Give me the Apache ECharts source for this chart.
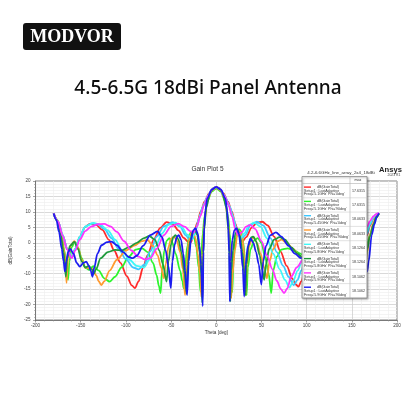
<!DOCTYPE html>
<html>
<head>
<meta charset="utf-8">
<script src="https://cdn.jsdelivr.net/npm/echarts@6/dist/echarts.min.js"></script>
<style>
html, body { margin: 0; padding: 0; background: #fff; }
#chart { width: 416px; height: 416px; }
</style>
</head>
<body>
<div id="chart"></div>
<script>
// [theta deg, dB(GainTotal)]
const red51_0 = [[-180,9.5],[-175,6.8],[-170,2.5],[-165,-2],[-160,-4.6],[-156,-2],[-151,2],[-145,5.1],[-140,6.1],[-133,5.8],[-126,4.2],[-119,1],[-113,-2.5],[-106,-6.5],[-99,-10.8],[-93.5,-13.8],[-90,-14.7],[-86,-12.5],[-81,-8],[-76,-4],[-69,1.2],[-62,4.8],[-55,6.7],[-48,6],[-42,4],[-36,1.6],[-31,0.3],[-28,0.2],[-25,2.5],[-21,6.5],[-17,10.2],[-13,13.3],[-8,16],[-4,17.2],[0,17.63],[4,17.2],[8,16],[13,13.3],[17,10.2],[21,6.3],[25,2.5],[29,0.4],[33,1.8],[39,4.8],[45,6.5],[51,6.8],[57,5.6],[64,2],[71,-2.8],[78,-7.5],[84,-11.5],[88,-13.5],[91,-14.2],[94,-12.5],[98,-9.5],[105,-4.5],[113,0.5],[122,4],[131,5.8],[139,6],[146,4],[152,0.5],[157,-2],[162,-1],[167,2.5],[170,5.5],[174,7.8],[177,9],[180,9.5]];
const green51_90 = [[-180,9.5],[-176,7.5],[-172,3.5],[-168,-2.5],[-165.5,-9],[-164,-12],[-162.5,-6],[-160,-1.5],[-156.5,0.4],[-153,-1.5],[-149,-5],[-145,-8],[-141,-8.8],[-136,-7.6],[-130,-9],[-124,-11.5],[-118,-12.6],[-112,-11],[-105,-8],[-97,-4.5],[-89,-2.2],[-82,-1.8],[-76,-3],[-70,-6.5],[-66,-10.5],[-63.5,-14],[-61.6,-16.3],[-60,-9],[-57.5,-2.5],[-55,0.6],[-52,1.5],[-49,0.3],[-45,-3.5],[-40,-9],[-37.5,-12.5],[-36,-14.7],[-34.5,-8],[-32,-1],[-29.5,2.8],[-27.5,3.6],[-25,2.5],[-22,-1.5],[-19.5,-8],[-17.5,-15.8],[-16.5,-4],[-15,3],[-13,8.5],[-10,13.3],[-5,16.6],[0,17.63],[5,16.6],[10,13.3],[13,8.5],[15,3],[16.5,-5],[17.7,-16],[19,-6],[21.5,1.5],[25,4.4],[27.5,3.8],[30,0],[32,-7],[33.5,-17],[35,-8],[38,-2],[42,0.8],[46,1.5],[50,0],[54,-4.5],[58,-10],[60.8,-16.3],[63,-9],[67,-4.5],[72,-2.2],[79,-1.8],[86,-2.5],[93,-3.5],[100,-5],[110,-9],[118,-12],[126,-10],[135,-7],[142,-8],[150,-4],[155,0],[160,-5],[163.5,-10],[165.5,-4],[167,-0.5],[170,2.5],[174,5.8],[177,8],[180,9.5]];
const sky545_0 = [[-180,9.5],[-175,6.8],[-170,2.5],[-165,-2],[-160,-4.7],[-156,-2],[-151,2],[-145,5.2],[-138,6.3],[-131,6],[-124,4.5],[-116,1.5],[-108,-2],[-100,-5.3],[-92,-8],[-86,-8.6],[-80,-7.2],[-73,-2.8],[-66,2],[-58,5.3],[-48,6.7],[-40,5.2],[-34,2.5],[-29.5,1],[-26.5,1.2],[-23,3.8],[-19,8],[-15,11.6],[-10,14.8],[-5,17.2],[0,18.06],[5,17.2],[10,14.8],[15,11.6],[19,8],[23,3.8],[27.5,1],[32,2.5],[38,5.8],[45,6.8],[52,5.6],[60,1.5],[67,-3],[74,-7.5],[80,-11],[85.7,-13.7],[90,-12],[94,-9],[98,-6.5],[106,-1.5],[115,2.5],[125,5.5],[134,6.3],[143,5],[151,1.5],[157,-2],[162,-0.5],[167,3],[170,5.8],[174,8],[177,9.1],[180,9.6]];
const orange545_90 = [[-180,9.5],[-176,7.3],[-172,3],[-168,-3],[-166.5,-8],[-165.7,-13],[-164,-5],[-161,-0.8],[-157,0.5],[-153,-1.5],[-149,-5.5],[-145,-8],[-141,-8.2],[-137,-8.5],[-133,-10.5],[-130,-12.5],[-127.3,-13.7],[-124,-12.5],[-118,-9],[-110,-5.5],[-100,-2.5],[-90,-0.8],[-83,0.5],[-76,0.9],[-70,-1],[-65,-4],[-61,-8],[-58,-11.5],[-56,-7],[-53,-1.5],[-50,1.3],[-47,2],[-44,1],[-40,-3],[-37,-8.5],[-34.5,-17],[-33,-8],[-30.5,0.5],[-28,3],[-25.5,3.5],[-23,1.5],[-20.5,-3.5],[-18,-10],[-16.5,-17.5],[-15.5,-6],[-14.5,1],[-13,7],[-10,13.8],[-5,16.9],[0,18.06],[5,16.9],[10,13.8],[13,7],[14.5,1],[15.5,-6],[16.5,-18],[18,-10],[20.5,-2.5],[23.5,3],[26,3.8],[28.5,2],[31,-4],[32.5,-17],[34,-7],[36.5,-1],[39,1.2],[41.5,1.8],[45,0],[49,-3.5],[53,-8],[56,-11.5],[59,-6],[63,-2],[68,0.5],[72,1],[78,0],[85,-2],[93,-4.5],[100,-6],[110,-9],[120,-12],[127,-13.5],[135,-9],[142,-7.5],[150,-5],[156,-1],[161,-4],[164.5,-10],[167,-3],[170,2.5],[174,6.5],[177,8.5],[180,9.5]];
const cyan58_0 = [[-180,9.5],[-175,6.8],[-170,2.5],[-165,-2],[-160,-4.7],[-156,-2],[-151,2],[-145,5.2],[-136,6.4],[-128,5.8],[-120,4],[-112,1],[-104,-2.5],[-96,-5.5],[-88,-7.5],[-80,-8],[-74,-5.5],[-67,-1],[-60,3],[-53,5.8],[-45,6.5],[-38,5],[-32,2.6],[-27.5,1.5],[-24.5,2.5],[-21,5.5],[-17.5,9.2],[-13.5,12.6],[-9,15.3],[-4.5,17.4],[0,18.13],[4.5,17.4],[9,15.3],[13.5,12.6],[17.5,9.2],[21,5.5],[24,2.8],[27,1.4],[31,3],[36.5,5.8],[42,6.5],[49,5.2],[56,1.5],[63,-3.5],[70,-8.5],[76,-12],[81,-14.5],[85,-12.5],[90,-9],[96,-5],[104,-1],[113,3],[124,6],[134,6.3],[143,5],[151,1.5],[157,-2],[162,0],[167,4],[170,6.3],[174,8.3],[177,9.2],[180,9.6]];
const dkgreen58_90 = [[-180,9.5],[-176,7],[-172,2.5],[-169,-3],[-167.5,-7],[-166.5,-11],[-165,-5],[-162,-1],[-157,0.3],[-153,-2],[-149,-6],[-145,-8],[-141,-7.5],[-138,-8.5],[-135.5,-10],[-133,-8.5],[-128,-5],[-120,-3],[-112,-2.3],[-105,-2.5],[-97,-1.5],[-88,0],[-80,1.5],[-74,2.2],[-68,1],[-63,-2.5],[-59,-7],[-55,-12.6],[-53,-6],[-50,-0.5],[-47.5,1.8],[-45,2.5],[-42,1.2],[-38.5,-3],[-35,-10],[-32.8,-16.5],[-31.5,-7],[-29,0.5],[-26,3.5],[-23.5,4.2],[-21,2.5],[-18.5,-3],[-16.5,-10],[-15.5,-19.5],[-14.5,-4],[-13.5,4],[-11,11.5],[-7,16],[-3.5,17.7],[0,18.13],[3.5,17.7],[7,16],[11,11.5],[13.5,4],[14.5,-4],[15.5,-19],[16.5,-9],[18.5,-2.5],[21,2.8],[23.5,4.2],[26,2.5],[29,-3],[31,-10],[32.3,-17],[33.5,-7],[36,0],[39,1.8],[41,2],[44,0.5],[48,-4],[51,-9],[53,-12],[55,-7],[58.5,-2],[64,1],[70,1.8],[76,1],[83,-1.5],[90,-3.5],[96,-5],[105,-3],[112,-2.5],[120,-3.5],[128,-6],[135,-10],[140,-8],[147,-7],[153,-2],[158,0],[162,-2],[165,-7],[167,-2],[170,2],[174,6],[177,8.3],[180,9.5]];
const magenta59_0 = [[-180,9.5],[-175,6.8],[-170,2.3],[-165,-2.2],[-160,-5],[-156,-2.5],[-151,1],[-145,3.8],[-138,5.3],[-131,6],[-124,6.1],[-117,5.3],[-110,3.5],[-102,0.5],[-94,-2.5],[-86,-4.5],[-79,-5.4],[-73,-5],[-66,-2],[-58,2.5],[-50,5.3],[-42,6.2],[-35,5.2],[-29,3.8],[-25,3.3],[-21.5,5.2],[-17.5,8.8],[-13.5,12.3],[-9,15.2],[-4.5,17.4],[0,18.1],[4.5,17.4],[9,15.2],[13.5,12.3],[17.5,8.5],[21,4.5],[24,2.5],[28,3.3],[33,5.2],[37.5,5.8],[43,4.5],[50,0.5],[56,-4],[62,-8.5],[67,-12.3],[71.5,-15],[75,-16.3],[78.5,-14.8],[83,-11],[89,-8],[96,-5.5],[104,-1.5],[112,2],[122,5],[132,6],[142,4.5],[150,1],[157,-2],[162,1],[167,5.2],[170,7],[174,8.6],[177,9.3],[180,9.7]];
const blue59_90 = [[-180,9.5],[-177,7.5],[-174,3.5],[-171,-2],[-169,-6],[-167.5,-9.3],[-166,-6],[-164,-3],[-161.5,-2],[-158,-3.5],[-154.5,-6.5],[-151,-7.7],[-147,-6.5],[-143.8,-6.1],[-141,-7.5],[-139,-9],[-137,-11],[-135,-8],[-131.5,-3.5],[-127,-0.8],[-121,0.2],[-116,0.4],[-110,-0.8],[-103,-3],[-97,-4.6],[-92.6,-5],[-88,-4.2],[-81,-1],[-73,2.5],[-65,3.7],[-60,1.8],[-56,-2.5],[-53,-7.5],[-50.3,-14.7],[-48.5,-6],[-46,-0.5],[-43.5,2],[-41.5,2.5],[-39,1],[-36.5,-3.5],[-34.5,-9],[-32.3,-16.9],[-30.5,-6],[-28,1],[-25.5,4],[-23,4.7],[-20.5,3],[-18.5,-1],[-16.8,-7],[-15,-20.5],[-14.2,-3],[-13.3,5],[-12,10.5],[-10,14.4],[-5,17.2],[0,18.1],[5,17.2],[10,14.4],[12,10.5],[13.3,5],[14.2,-3],[15,-19],[16,-6],[17.8,1],[20,4],[22.5,4.7],[25,3],[27.3,-2],[29.3,-8],[30.9,-17.4],[32.5,-7],[35,-1],[38,1.4],[41,0],[44,-3],[47,-7],[49.9,-13.5],[52,-6],[55,-1],[60,2.5],[66,3.4],[72,2],[80,-1],[87,-3.5],[93.7,-5],[100,-4],[108,-1.5],[116,0.3],[124,-1],[131,-5],[135,-10],[139,-7.5],[144,-6],[149,-7.5],[154,-5],[159,-2.5],[163,-4],[165,-6],[167,-9.3],[168.6,-6.1],[172,2.5],[175,6],[177.7,8.5],[180,9.5]];

const curveData = [red51_0, green51_90, sky545_0, orange545_90, cyan58_0, dkgreen58_90, magenta59_0, blue59_90];
const curveNames = ['5.1GHz 0deg', '5.1GHz 90deg', '5.45GHz 0deg', '5.45GHz 90deg', '5.8GHz 0deg', '5.8GHz 90deg', '5.9GHz 0deg', '5.9GHz 90deg'];
const freqLabels = ["Freq='5.1GHz' Phi='0deg'", "Freq='5.1GHz' Phi='90deg'", "Freq='5.45GHz' Phi='0deg'", "Freq='5.45GHz' Phi='90deg'", "Freq='5.8GHz' Phi='0deg'", "Freq='5.8GHz' Phi='90deg'", "Freq='5.9GHz' Phi='0deg'", "Freq='5.9GHz' Phi='90deg'"];
const maxValues = ['17.6315', '17.6315', '18.0633', '18.0633', '18.1264', '18.1264', '18.1062', '18.1062'];

const colors = ['#ff2a2a', '#2cf52c', '#3cc6ff', '#ff9a30', '#3ef8f8', '#1f9a3c', '#ff33ff', '#1c1cf0'];
const sans = 'Liberation Sans';

const chart = echarts.init(document.getElementById('chart'), null, { renderer: 'canvas' });

// legend box (Ansys style table) drawn as graphic
const boxX = 302, boxY = 176.5, boxW = 65, boxH = 121.5;
const rowTop = 183.5, rowH = 14.3, colX = 350;
const legendGfx = [
    {
        type: 'rect', z: 10,
        shape: { x: boxX, y: boxY, width: boxW, height: boxH },
        style: { fill: '#fff', stroke: '#8a8a8a', lineWidth: 0.8, shadowBlur: 2, shadowOffsetX: 1, shadowOffsetY: 1, shadowColor: 'rgba(0,0,0,0.35)' }
    },
    { type: 'line', z: 11, shape: { x1: boxX, y1: rowTop, x2: boxX + boxW, y2: rowTop }, style: { stroke: '#b0b0b0', lineWidth: 0.6 } },
    { type: 'line', z: 11, shape: { x1: colX, y1: boxY, x2: colX, y2: boxY + boxH }, style: { stroke: '#b0b0b0', lineWidth: 0.6 } },
    { type: 'text', z: 11, x: 358, y: 180.2, style: { text: 'max', font: '3.6px ' + sans, fill: '#333', align: 'center', verticalAlign: 'middle', textAlign: 'center', textVerticalAlign: 'middle' } }
];
freqLabels.forEach((f, i) => {
    const top = rowTop + i * rowH;
    legendGfx.push({ type: 'text', z: 11, x: 304, y: top + 7.3, style: { text: 'Setup1 : LastAdaptive', font: '3.6px ' + sans, fill: '#333', verticalAlign: 'middle', textVerticalAlign: 'middle' } });
    legendGfx.push({ type: 'text', z: 11, x: 304, y: top + 10.9, style: { text: f, font: '3.6px ' + sans, fill: '#333', verticalAlign: 'middle', textVerticalAlign: 'middle' } });
    legendGfx.push({ type: 'text', z: 11, x: 358.5, y: top + 7.3, style: { text: maxValues[i], font: '3.6px ' + sans, fill: '#333', align: 'center', verticalAlign: 'middle', textAlign: 'center', textVerticalAlign: 'middle' } });
    if (i < freqLabels.length - 1) {
        legendGfx.push({ type: 'line', z: 11, shape: { x1: boxX, y1: top + rowH, x2: boxX + boxW, y2: top + rowH }, style: { stroke: '#c4c4c4', lineWidth: 0.5 } });
    }
});

const option = {
    backgroundColor: '#fff',
    animation: false,
    textStyle: { fontFamily: sans },
    grid: {
        left: 32, right: 19, top: 181, bottom: 96,
        show: true, borderColor: '#666', borderWidth: 0.8, backgroundColor: '#fff'
    },
    xAxis: {
        type: 'value', min: -200, max: 200, interval: 50,
        name: 'Theta [deg]', nameLocation: 'middle', nameGap: 10,
        nameTextStyle: { fontSize: 4.6, color: '#333' },
        axisLine: { show: true, onZero: false, lineStyle: { color: '#666', width: 0.8 } },
        axisTick: { show: true, length: 2.5, lineStyle: { color: '#666', width: 0.6 } },
        minorTick: { show: true, splitNumber: 5, length: 1.5, lineStyle: { color: '#888', width: 0.5 } },
        axisLabel: { fontSize: 4.6, color: '#444', margin: 3 },
        splitLine: { show: true, lineStyle: { color: '#c9c9c9', width: 0.7 } },
        minorSplitLine: { show: true, lineStyle: { color: '#ececec', width: 0.6 } }
    },
    yAxis: {
        type: 'value', min: -25, max: 20, interval: 5,
        name: 'dB(GainTotal)', nameLocation: 'middle', nameGap: 14, nameRotate: 90,
        nameTextStyle: { fontSize: 4.6, color: '#333' },
        axisLine: { show: true, onZero: false, lineStyle: { color: '#666', width: 0.8 } },
        axisTick: { show: true, length: 2.5, lineStyle: { color: '#666', width: 0.6 } },
        minorTick: { show: true, splitNumber: 5, length: 1.5, lineStyle: { color: '#888', width: 0.5 } },
        axisLabel: { fontSize: 4.6, color: '#444', margin: 5 },
        splitLine: { show: true, lineStyle: { color: '#c9c9c9', width: 0.7 } },
        minorSplitLine: { show: true, lineStyle: { color: '#ececec', width: 0.6 } }
    },
    legend: {
        orient: 'vertical', left: 304, top: rowTop + 1.1, z: 12,
        padding: 0, itemGap: rowH - 5, itemWidth: 7, itemHeight: 1.4,
        icon: 'rect', selectedMode: false,
        data: curveNames,
        formatter: () => 'dB(GainTotal)',
        textStyle: { fontSize: 3.6, lineHeight: 5, color: '#333', padding: [0, 0, 0, 1], fontFamily: sans }
    },
    series: curveData.map((d, i) => ({
        name: curveNames[i],
        type: 'line',
        data: d,
        smooth: 0.3,
        smoothMonotone: 'x',
        showSymbol: false,
        clip: true,
        color: colors[i],
        lineStyle: { color: colors[i], width: 1.8 },
        z: 2 + i * 0.01
    })),
    graphic: [
        // MODVOR badge
        { type: 'rect', shape: { x: 23, y: 23, width: 98, height: 27, r: 3 }, style: { fill: '#111' } },
        { type: 'text', x: 72, y: 37, style: { text: 'MODVOR', font: 'bold 18px "Liberation Serif"', fill: '#fff', align: 'center', verticalAlign: 'middle', textAlign: 'center', textVerticalAlign: 'middle' } },
        { type: 'text', x: 208, y: 88.5, style: { text: '4.5-6.5G 18dBi Panel Antenna', font: '500 19px "Noto Sans"', fill: '#0d0d0d', align: 'center', verticalAlign: 'middle', textAlign: 'center', textVerticalAlign: 'middle' } },
        { type: 'text', x: 207.5, y: 169.5, style: { text: 'Gain Plot 5', font: '6.5px ' + sans, fill: '#333', align: 'center', verticalAlign: 'middle', textAlign: 'center', textVerticalAlign: 'middle' } },
        { type: 'text', x: 341, y: 172.5, style: { text: '4.2-6.6GHz_line_array_2x4_18dBi', font: '4.4px ' + sans, fill: '#333', align: 'center', verticalAlign: 'middle', textAlign: 'center', textVerticalAlign: 'middle' } },
        { type: 'text', x: 390.5, y: 169.8, style: { text: 'Ansys', font: 'bold 7.6px ' + sans, fill: '#222', align: 'center', verticalAlign: 'middle', textAlign: 'center', textVerticalAlign: 'middle' } },
        { type: 'text', x: 394, y: 175.3, style: { text: '2023 R1', font: '3.4px ' + sans, fill: '#444', align: 'center', verticalAlign: 'middle', textAlign: 'center', textVerticalAlign: 'middle' } }
    ].concat(legendGfx)
};

chart.setOption(option);
</script>
</body>
</html>
